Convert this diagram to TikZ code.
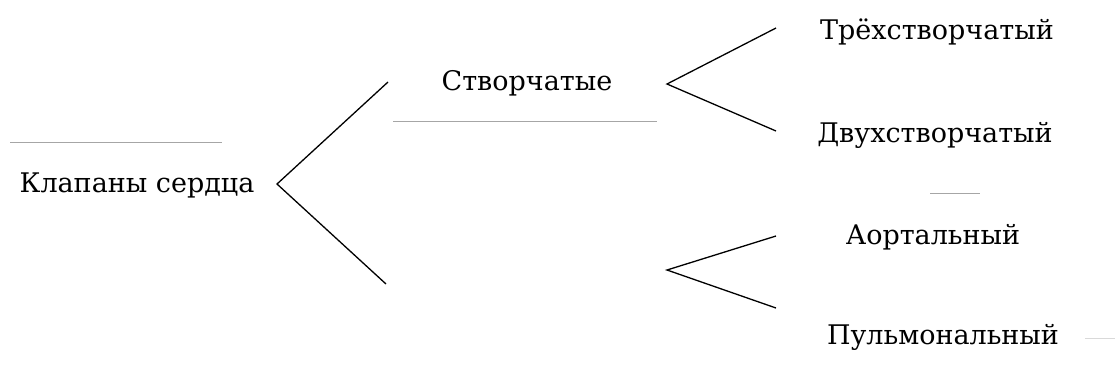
\documentclass[tikz,border=0pt]{standalone}
\usepackage{fontspec}
\setmainfont{DejaVu Serif}
\newfontfamily\lblfont{DejaVu Serif}
\begin{document}
\begin{tikzpicture}[x=1pt,y=-1pt]
	% styles
	\tikzstyle{lbl} += [inner sep=0pt,font=\lblfont\fontsize{27}{32}\selectfont]
	\tikzstyle{brace} += [draw=black,line width=1.3pt]
	\tikzstyle{rule} += [draw=black!35,line width=1pt]

	% bounding box
	\useasboundingbox (0,0) rectangle (1115,376);

	% labels
	\node[lbl] (root) at (137,185) {Клапаны сердца};
	\node[lbl] (leaf) at (527,83) {Створчатые};
	\coordinate (semi) at (527,278);
	\node[lbl] (tri) at (937,32) {Трёхстворчатый};
	\node[lbl] (bi) at (935,135) {Двухстворчатый};
	\node[lbl] (aort) at (933,237) {Аортальный};
	\node[lbl] (pulm) at (943,337) {Пульмональный};

	% bracket ends
	\coordinate (a0) at (277,184);
	\coordinate (a0u) at (388,82);
	\coordinate (a0d) at (386,284);
	\coordinate (a1) at (667,84);
	\coordinate (a1u) at (776,28);
	\coordinate (a1d) at (776,131);
	\coordinate (a2) at (667,270);
	\coordinate (a2u) at (776,236);
	\coordinate (a2d) at (776,308);

	% brackets
	\path[brace] (a0u) -- (a0) -- (a0d);
	\path[brace] (a1u) -- (a1) -- (a1d);
	\path[brace] (a2u) -- (a2) -- (a2d);

	% faint rules
	\path[rule] (10,142) -- (222,142);
	\path[rule] (393,121) -- (657,121);
	\path[rule] (930,193) -- (980,193);
	\path[rule,draw=black!15] (1085,338) -- (1115,338);
\end{tikzpicture}
\end{document}
